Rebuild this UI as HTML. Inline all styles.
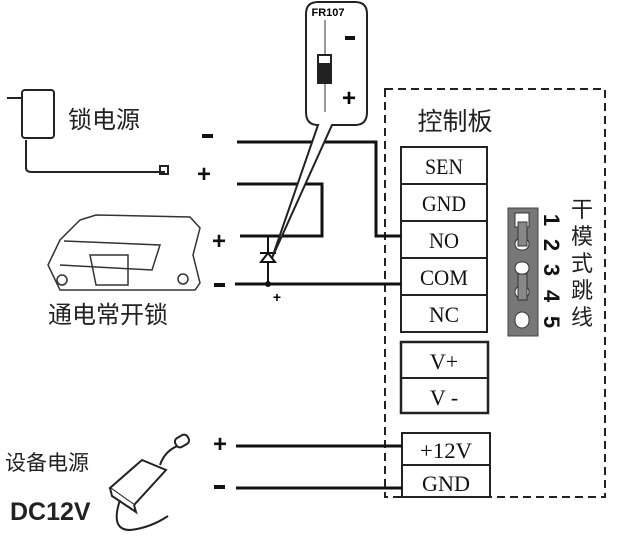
<!DOCTYPE html>
<html><head><meta charset="utf-8"><style>
html,body{margin:0;padding:0;background:#fff;width:624px;height:540px;overflow:hidden}
svg{display:block}
.cn{font-family:"Liberation Sans","Noto Sans CJK SC",sans-serif}
.sr{font-family:"Liberation Serif",serif}
</style></head><body>
<svg width="624" height="540" viewBox="0 0 624 540" xmlns="http://www.w3.org/2000/svg">
<rect x="385" y="89" width="220" height="408" fill="none" stroke="#222" stroke-width="2" stroke-dasharray="8,5"/>
<text x="455" y="130" font-size="25" text-anchor="middle" class="cn" fill="#222">控制板</text>
<g stroke="#222" stroke-width="2" fill="#fff">
<rect x="401" y="147" width="86" height="185"/>
<line x1="401" y1="184" x2="487" y2="184"/><line x1="401" y1="221" x2="487" y2="221"/>
<line x1="401" y1="258" x2="487" y2="258"/><line x1="401" y1="295" x2="487" y2="295"/>
<rect x="401" y="342" width="87" height="71" stroke-width="2.5"/>
<line x1="401" y1="378" x2="488" y2="378"/>
<rect x="402" y="433" width="88" height="64"/>
<line x1="402" y1="465" x2="490" y2="465"/>
</g>
<g class="sr" font-size="22" text-anchor="middle" fill="#111">
<text x="444" y="174" textLength="38" lengthAdjust="spacingAndGlyphs">SEN</text>
<text x="444" y="211" textLength="44" lengthAdjust="spacingAndGlyphs">GND</text>
<text x="444" y="248" textLength="30" lengthAdjust="spacingAndGlyphs">NO</text>
<text x="444" y="285" textLength="48" lengthAdjust="spacingAndGlyphs">COM</text>
<text x="444" y="322" textLength="30" lengthAdjust="spacingAndGlyphs">NC</text>
<text x="444" y="369">V+</text><text x="444" y="405">V -</text>
<text x="446" y="458" textLength="52" lengthAdjust="spacingAndGlyphs">+12V</text>
<text x="446" y="491" textLength="48" lengthAdjust="spacingAndGlyphs">GND</text>
</g>
<rect x="508" y="208" width="30" height="128" fill="#777" stroke="#444"/>
<g fill="#fff" stroke="#333">
<rect x="515" y="213" width="14" height="14"/>
<rect x="515" y="238" width="14" height="12" rx="6"/>
<rect x="515" y="262" width="14" height="12" rx="6"/>
<rect x="515" y="286" width="14" height="12" rx="6"/>
<rect x="515" y="312" width="14" height="16" rx="7"/>
</g>
<rect x="518" y="222" width="9" height="24" fill="#888" stroke="#333"/>
<rect x="518" y="274" width="9" height="26" fill="#888" stroke="#333"/>
<g font-size="22" font-weight="bold" class="cn" fill="#111" text-anchor="middle">
<text transform="translate(552,220) rotate(90)" y="8">1</text>
<text transform="translate(552,245) rotate(90)" y="8">2</text>
<text transform="translate(552,270) rotate(90)" y="8">3</text>
<text transform="translate(552,296) rotate(90)" y="8">4</text>
<text transform="translate(552,322) rotate(90)" y="8">5</text>
</g>
<g class="cn" font-size="22" fill="#222" text-anchor="middle">
<text x="582" y="217">干</text><text x="582" y="244">模</text><text x="582" y="271">式</text>
<text x="582" y="298">跳</text><text x="582" y="325">线</text>
</g>
<g stroke="#111" stroke-width="3" fill="none">
<polyline points="237,142 376,142 376,236 401,236"/>
<polyline points="237,184 322,184 322,236 240,236"/>
<line x1="235" y1="284" x2="401" y2="284"/>
<line x1="236" y1="446" x2="402" y2="446"/>
<line x1="236" y1="488" x2="402" y2="488"/>
</g>
<g stroke="#111" stroke-width="2" fill="none">
<line x1="268" y1="236" x2="268" y2="284"/>
<polygon points="261,262 275,262 268,253" fill="#fff"/>
<line x1="260" y1="253" x2="276" y2="253"/>
</g>
<circle cx="268" cy="284" r="3" fill="#111"/>
<text x="277" y="302" font-size="14" class="cn" text-anchor="middle" font-weight="bold">+</text>
<path d="M318,2 H355 Q367,2 367,14 V112 Q367,125 355,125 H332 L272,258 L318,125 H318 Q306,125 306,112 V14 Q306,2 318,2 Z" fill="#fff" stroke="#222" stroke-width="2"/>
<text x="328" y="16" font-size="11" font-weight="bold" class="cn" text-anchor="middle">FR107</text>
<line x1="325" y1="20" x2="325" y2="112" stroke="#777" stroke-width="1.5"/>
<rect x="317" y="54" width="15" height="30" fill="#222"/>
<rect x="319" y="56" width="11" height="7" fill="#fff"/>
<rect x="345" y="36" width="10" height="4" fill="#111"/>
<text x="349" y="106" font-size="24" font-weight="bold" class="cn" text-anchor="middle">+</text>
<g fill="#111">
<rect x="202" y="134" width="11" height="4"/>
<rect x="214" y="283" width="11" height="4"/>
<rect x="214" y="485" width="11" height="4"/>
</g>
<g class="cn" font-size="24" font-weight="bold" text-anchor="middle" fill="#111">
<text x="204" y="182">+</text>
<text x="219" y="249">+</text>
<text x="220" y="452">+</text>
</g>
<g stroke="#222" stroke-width="2" fill="none">
<rect x="22" y="90" width="32" height="48" rx="3"/>
<line x1="7" y1="98" x2="22" y2="98"/>
<path d="M26,140 V168 Q26,172 32,172 H165"/>
<rect x="160" y="166" width="8" height="8"/>
</g>
<text x="68" y="128" font-size="24" class="cn" fill="#222">锁电源</text>
<g stroke="#333" stroke-width="1.5" fill="#fff">
<path d="M80,220 L96,215 L190,217 L200,228 L193,255 L200,283 L195,290 L60,290 L48,265 L60,240 Z"/>
<path d="M64,241 L160,245 L152,270 L60,265" fill="none"/>
<path d="M90,255 L128,255 L128,285 L96,285 Z" fill="none"/>
<circle cx="62" cy="280" r="5"/><circle cx="183" cy="279" r="5"/>
</g>
<text x="48" y="323" font-size="24" class="cn" fill="#222">通电常开锁</text>
<text x="5" y="470" font-size="21" class="cn" fill="#222">设备电源</text>
<text x="10" y="520" font-size="25" font-weight="bold" class="cn" fill="#222">DC12V</text>
<g stroke="#222" stroke-width="2" fill="#fff">
<path d="M110,488 L142,460 L166,470 L134,505 Z"/>
<path d="M110,488 L112,496 L136,512 L134,505"/>
<path d="M160,465 Q165,450 180,445" fill="none"/>
<rect x="175" y="436" width="14" height="10" rx="4" transform="rotate(-30 182 441)"/>
<path d="M120,500 Q110,530 130,530 Q150,528 168,516" fill="none"/>
</g>
</svg>
</body></html>
